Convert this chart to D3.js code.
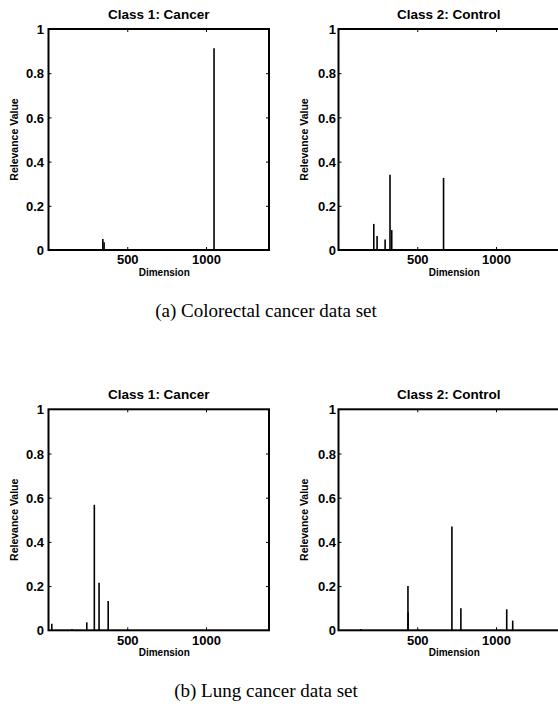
<!DOCTYPE html>
<html>
<head>
<meta charset="utf-8">
<script src="https://cdn.jsdelivr.net/npm/d3@7"></script>
<style>
  html, body { margin: 0; padding: 0; background: #fff; }
  svg { display: block; }
</style>
</head>
<body>
<svg id="chart" width="558" height="704"></svg>
<script>
// ---- data ----
const panelTitles = ["Class 1: Cancer", "Class 2: Control", "Class 1: Cancer", "Class 2: Control"];
const captions = ["(a) Colorectal cancer data set", "(b) Lung cancer data set"];
const xTickValues = [500, 1000];
const yTickValues = [0, 0.2, 0.4, 0.6, 0.8, 1];
const yTickLabels = ["0", "0.2", "0.4", "0.6", "0.8", "1"];
const xLabel = "Dimension";
const yLabel = "Relevance Value";

const colorectalCancerDims = [345, 353, 1051];
const colorectalCancerVals = [0.05, 0.035, 0.913];
const colorectalControlDims = [224, 245, 296, 327, 338, 667];
const colorectalControlVals = [0.118, 0.063, 0.048, 0.34, 0.09, 0.326];
const lungCancerDims = [21, 149, 243, 291, 321, 379];
const lungCancerVals = [0.03, 0.006, 0.036, 0.568, 0.215, 0.133];
const lungControlDims = [142, 441, 442, 720, 777, 1068, 1106];
const lungControlVals = [0.006, 0.2, 0.08, 0.47, 0.1, 0.095, 0.044];

const series = [
  [colorectalCancerDims, colorectalCancerVals],
  [colorectalControlDims, colorectalControlVals],
  [lungCancerDims, lungCancerVals],
  [lungControlDims, lungControlVals]
];

// ---- layout ----
const svg = d3.select("#chart");
const colLeft = [48.5, 338.5];
const colGap = [4.5, 2.5];
const rowTop = [29, 409.3];
const plotW = 220.5, plotH = 221;
const captionY = [317, 697];
const captionX = 266;
const sans = "Liberation Sans, Arial, sans-serif";

series.forEach((s, i) => {
  const col = i % 2, row = Math.floor(i / 2);
  const left = colLeft[col], top = rowTop[row];
  const x = d3.scaleLinear().domain([0, 1400]).range([left, left + plotW]);
  const y = d3.scaleLinear().domain([0, 1]).range([top + plotH, top]);
  const g = svg.append("g");

  const data = s[0].map((d, k) => ({ d: d, v: s[1][k] }));
  g.selectAll("line.bar").data(data).enter().append("line")
    .attr("class", "bar")
    .attr("x1", d => x(d.d)).attr("x2", d => x(d.d))
    .attr("y1", y(0)).attr("y2", d => y(d.v))
    .attr("stroke", "#000").attr("stroke-width", 1.6);

  // axes with inward ticks (MATLAB style box)
  const xb = g.append("g").attr("transform", `translate(0,${y(0)})`)
    .call(d3.axisBottom(x).tickValues(xTickValues).tickSize(-3).tickPadding(5).tickFormat(d3.format("d")));
  const xt = g.append("g").attr("transform", `translate(0,${y(1)})`)
    .call(d3.axisTop(x).tickValues(xTickValues).tickSize(-3).tickFormat(""));
  const yl = g.append("g").attr("transform", `translate(${x(0)},0)`)
    .call(d3.axisLeft(y).tickValues(yTickValues).tickSize(-3).tickPadding(colGap[col])
      .tickFormat((d, k) => yTickLabels[k]));
  const axesList = [xb, xt, yl];
  if (col === 0) {
    const yr = g.append("g").attr("transform", `translate(${x(1400)},0)`)
      .call(d3.axisRight(y).tickValues(yTickValues).tickSize(-3).tickFormat(""));
    yr.selectAll(".tick line").filter(d => d === 0 || d === 1).remove();
    axesList.push(yr);
  }

  axesList.forEach(a => {
    a.select(".domain").remove();
    a.selectAll(".tick line").attr("stroke", "#000").attr("stroke-width", 1);
    a.selectAll("text").attr("fill", "#000")
      .style("font-family", sans)
      .style("font-weight", "bold").style("font-size", "13px");
  });
  yl.selectAll(".tick line").filter(d => d === 0 || d === 1).remove();
  yl.selectAll("text").attr("dy", "0.36em");

  // box
  g.append("rect")
    .attr("x", x(0)).attr("y", y(1))
    .attr("width", x(1400) - x(0)).attr("height", y(0) - y(1))
    .attr("fill", "none").attr("stroke", "#000").attr("stroke-width", 2);

  // title
  g.append("text").attr("x", (left + left + plotW) / 2).attr("y", top - 10)
    .attr("text-anchor", "middle")
    .style("font-family", sans)
    .style("font-weight", "bold").style("font-size", "13.5px")
    .text(panelTitles[i]);

  // x label
  g.append("text").attr("x", x(735)).attr("y", y(0) + 26)
    .attr("text-anchor", "middle")
    .style("font-family", sans)
    .style("font-weight", "bold").style("font-size", "10px")
    .text(xLabel);

  // y label
  g.append("text")
    .attr("transform", `translate(${left - 31},${(y(0) + y(1)) / 2}) rotate(-90)`)
    .attr("text-anchor", "middle")
    .style("font-family", sans)
    .style("font-weight", "bold").style("font-size", "10.5px")
    .text(yLabel);
});

captions.forEach((c, r) => {
  svg.append("text").attr("x", captionX).attr("y", captionY[r])
    .attr("text-anchor", "middle")
    .style("font-family", "Liberation Serif, Times New Roman, serif")
    .style("font-size", "19px")
    .text(c);
});
</script>
</body>
</html>
